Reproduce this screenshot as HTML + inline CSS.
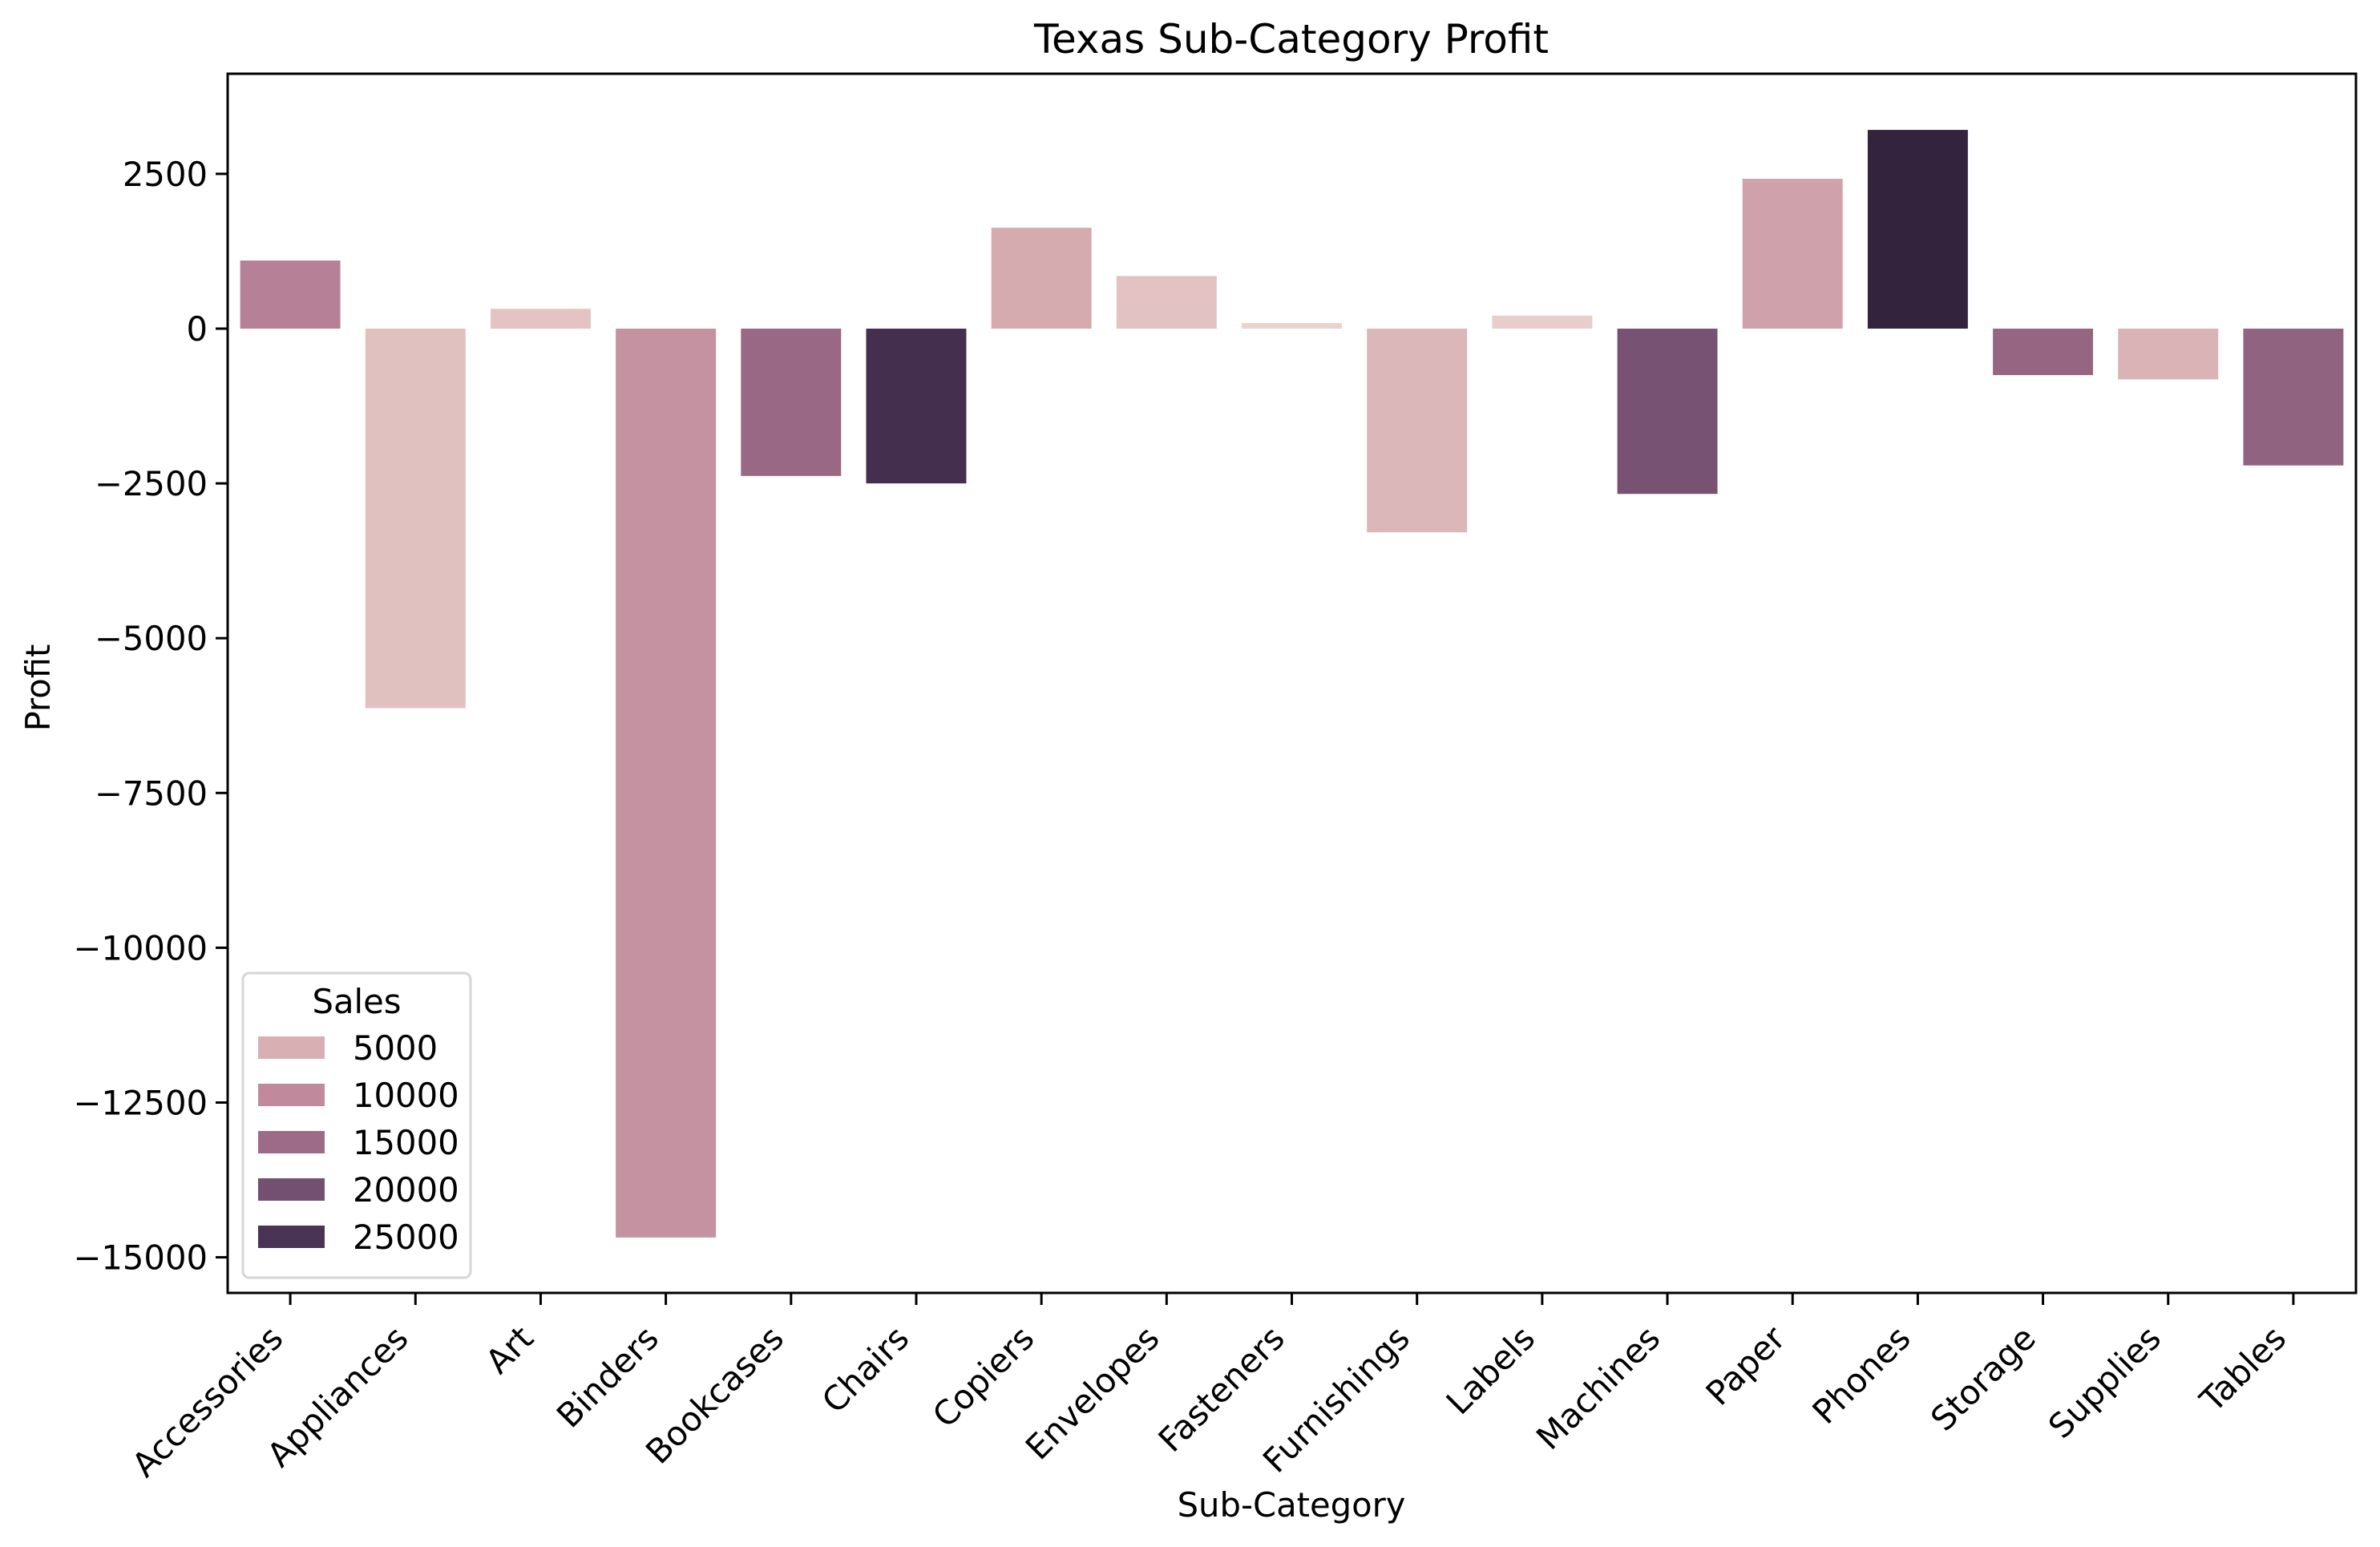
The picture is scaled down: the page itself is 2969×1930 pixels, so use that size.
<!DOCTYPE html>
<html><head><meta charset="utf-8"><style>
html,body{margin:0;padding:0;background:#fff}
svg{display:block;font-family:"DejaVu Sans","Liberation Sans",sans-serif}
</style></head><body>
<svg id="chart" width="2969" height="1930" viewBox="0 0 2969 1930" xmlns="http://www.w3.org/2000/svg">
<rect x="0" y="0" width="2969" height="1930" fill="#fff"/>
<text x="1611" y="66" font-size="50" text-anchor="middle">Texas Sub-Category Profit</text>
<g id="bars"></g>
<g id="yaxis"></g>
<g id="xaxis"></g>
<rect x="284" y="92" width="2655" height="1521" fill="none" stroke="#000" stroke-width="3"/>
<text x="0" y="0" font-size="41.7" text-anchor="middle" transform="translate(62,858) rotate(-90)">Profit</text>
<text x="1611" y="1892" font-size="41.7" text-anchor="middle">Sub-Category</text>
<g>
<rect x="303" y="1214" width="284" height="380" rx="8" fill="#fff" fill-opacity="0.8" stroke="#d6d6d6" stroke-width="3"/>
<text x="445" y="1264" font-size="41.7" text-anchor="middle">Sales</text>
<g id="legend-entries"></g>
</g>
</svg>
<script>
const categories = ["Accessories","Appliances","Art","Binders","Bookcases","Chairs","Copiers","Envelopes","Fasteners","Furnishings","Labels","Machines","Paper","Phones","Storage","Supplies","Tables"];
const profit = [1100,-6130,320,-14680,-2380,-2500,1630,850,90,-3290,210,-2670,2420,3210,-750,-820,-2210];
const sales = [11500,3200,2800,9000,15500,26000,5600,3000,1200,4200,1800,19500,6800,28500,16000,4700,16500];
const yTicks = [2500,0,-2500,-5000,-7500,-10000,-12500,-15000];
const legendValues = [5000,10000,15000,20000,25000];

const NS = "http://www.w3.org/2000/svg";
const L = 284, R = 2939, T = 92, B = 1613;
const yMax = 4117, yMin = -15575;
const yScale = v => T + (yMax - v) / (yMax - yMin) * (B - T);
const step = (R - L) / categories.length;
const xCenter = i => L + step * (i + 0.5);
const stops = [[0,[240,221,216]],[5000,[216,176,179]],[10000,[192,138,156]],[15000,[157,107,135]],[20000,[115,79,112]],[25000,[74,52,85]],[30000,[42,28,51]]];
function color(s){
  for(let k=0;k<stops.length-1;k++){
    const a=stops[k],b=stops[k+1];
    if(s<=b[0]||k===stops.length-2){
      let t=(s-a[0])/(b[0]-a[0]);t=Math.max(0,Math.min(1,t));
      const c=a[1].map((v,j)=>Math.round(v+(b[1][j]-v)*t));
      return "rgb("+c.join(",")+")";
    }
  }
}
function mk(tag,attrs,parent){const e=document.createElementNS(NS,tag);for(const k in attrs)e.setAttribute(k,attrs[k]);parent.appendChild(e);return e;}

const bars=document.getElementById("bars");
const xaxis=document.getElementById("xaxis");
categories.forEach((c,i)=>{
  const y0=yScale(0), y1=yScale(profit[i]);
  const r=mk("rect",{x:xCenter(i)-step*0.4,y:Math.min(y0,y1),width:step*0.8,height:Math.abs(y1-y0),fill:color(sales[i])},bars);
  
  
  const t=mk("line",{x1:xCenter(i),x2:xCenter(i),y1:B,y2:B+15,stroke:"#000","stroke-width":3},xaxis);
  
  
  const lx=xCenter(i)-28, ly=B+38;
  const tx=mk("text",{x:lx,y:ly,"font-size":41.7,"text-anchor":"end",transform:"rotate(-45,"+lx+","+ly+")",dy:"0.72em"},xaxis);
  
  
  tx.textContent=c;
});
const yaxis=document.getElementById("yaxis");
yTicks.forEach(v=>{
  const y=yScale(v);
  const t=mk("line",{x1:L-15,x2:L,y1:y,y2:y,stroke:"#000","stroke-width":3},yaxis);
  
  
  const tx=mk("text",{x:L-25,y:y+15,"font-size":41.7,"text-anchor":"end"},yaxis);
  
  
  tx.textContent=(v<0?"\u2212":"")+Math.abs(v);
});
const le=document.getElementById("legend-entries");
legendValues.forEach((v,k)=>{
  const y=1307+k*59;
  const r=mk("rect",{x:322,y:y-14,width:83,height:28,fill:color(v)},le);
  
  
  const tx=mk("text",{x:440,y:y+15,"font-size":41.7},le);
  
  
  tx.textContent=String(v);
});
</script>
</body></html>
